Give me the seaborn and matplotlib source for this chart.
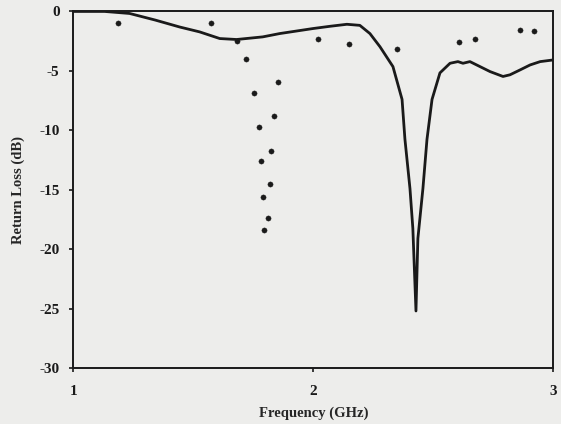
import matplotlib
matplotlib.use("Agg")
import matplotlib.pyplot as plt
import seaborn as sns
import pandas as pd

# measured return loss curve
freq_curve = [1.0, 1.13, 1.234, 1.34, 1.443, 1.526, 1.61, 1.68, 1.789, 1.86, 1.998, 2.069,
              2.14, 2.194, 2.236, 2.278, 2.332, 2.37, 2.382, 2.403, 2.415, 2.428,
              2.436, 2.457, 2.474, 2.495, 2.528, 2.57, 2.603, 2.624, 2.653, 2.695,
              2.737, 2.791, 2.82, 2.862, 2.904, 2.946, 3.0]
rl_curve = [0.0, 0.0, -0.17, -0.72, -1.31, -1.72, -2.28, -2.36, -2.14, -1.86, -1.44, -1.25,
            -1.08, -1.17, -1.86, -2.97, -4.64, -7.4, -10.75, -14.9, -18.25, -25.2,
            -19.1, -14.9, -10.75, -7.4, -5.17, -4.36, -4.22, -4.36, -4.22, -4.64,
            -5.06, -5.47, -5.33, -4.92, -4.5, -4.22, -4.08]

# simulated points
freq_pts = [1.185, 1.575, 1.682, 1.721, 1.853, 1.753, 1.836, 1.772, 1.825, 1.782,
            1.818, 1.789, 1.813, 1.793, 2.02, 2.15, 2.35, 2.607, 2.674, 2.86, 2.92]
rl_pts = [-1.0, -1.0, -2.5, -4.0, -5.9, -6.9, -8.8, -9.75, -11.7, -12.6,
          -14.5, -15.6, -17.4, -18.4, -2.3, -2.75, -3.2, -2.6, -2.35, -1.6, -1.65]

curve = pd.DataFrame({"freq": freq_curve, "rl": rl_curve})
pts = pd.DataFrame({"freq": freq_pts, "rl": rl_pts})

sns.set_style("ticks")
plt.rcParams['font.family'] = ['Liberation Serif', 'DejaVu Serif']
plt.rcParams['font.weight'] = 'bold'

bg = '#ededeb'
fig = plt.figure(figsize=(5.61, 4.24), dpi=100, facecolor=bg)
ax = fig.add_axes([0.131, 0.132, 0.855, 0.841], facecolor=bg)

sns.lineplot(data=curve, x="freq", y="rl", color='#1a1a1a', linewidth=2.0, ax=ax)
sns.scatterplot(data=pts, x="freq", y="rl", color='#1a1a1a', s=14, edgecolor=None, ax=ax)

ax.set_xlim(1, 3)
ax.set_ylim(-30, 0)
ax.set_xticks([1, 2, 3])
ax.set_yticks([0, -5, -10, -15, -20, -25, -30])
ax.set_xticklabels(['1', '2', '3'], fontsize=11, fontweight='bold')
ax.set_yticklabels(['0', '-5', '-10', '-15', '-20', '-25', '-30'], fontsize=11, fontweight='bold')
ax.tick_params(direction='out', length=3, width=1.2, colors='#1a1a1a', pad=7)
ax.tick_params(axis='x', pad=9)
ax.set_xlabel('Frequency (GHz)', fontsize=10.5, fontweight='bold', labelpad=6)
ax.set_ylabel('Return Loss (dB)', fontsize=10.5, fontweight='bold', labelpad=10)
for s in ax.spines.values():
    s.set_visible(True)
    s.set_linewidth(1.4)
    s.set_color('#1a1a1a')

plt.savefig('out.png', dpi=100, facecolor=bg)
